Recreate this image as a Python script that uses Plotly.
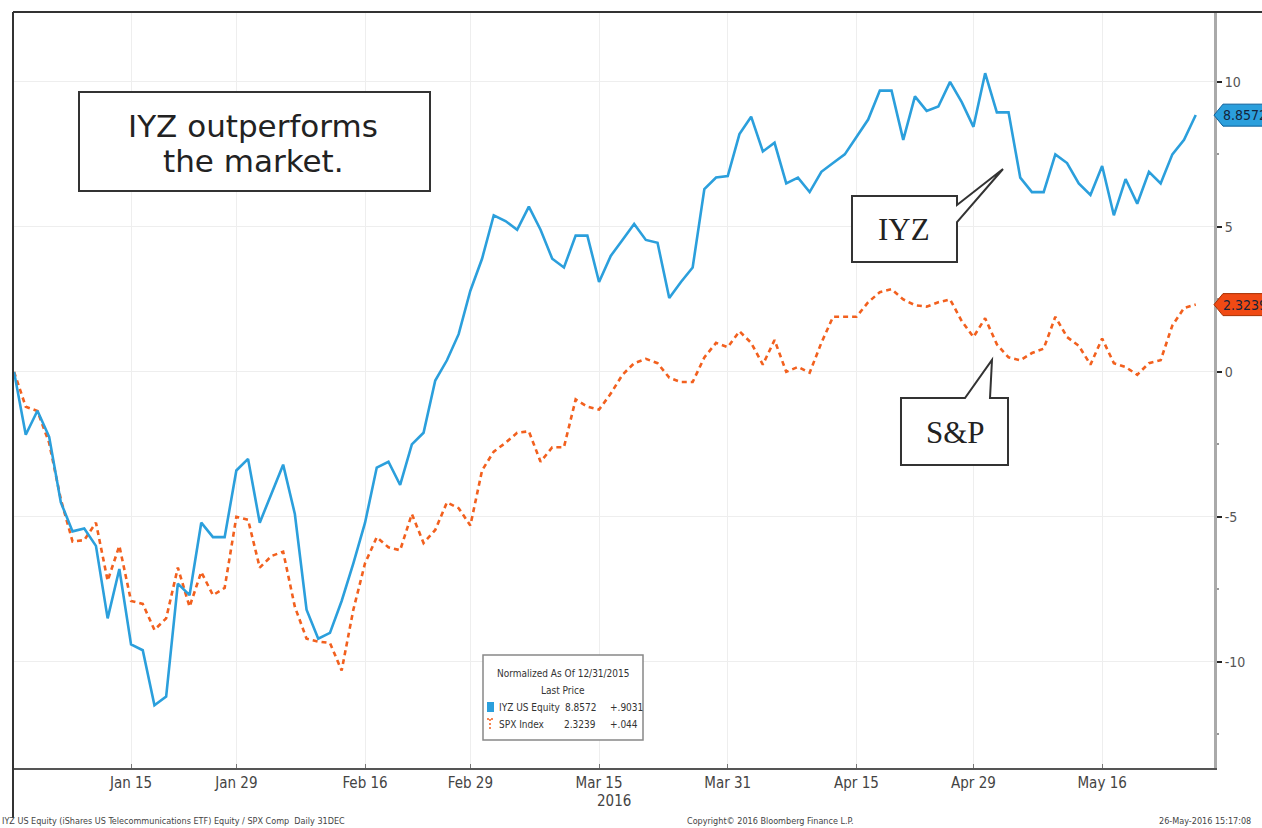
import plotly.graph_objects as go

# ---------------- data (normalized % change since 12/31/2015, trading days) ----------------
day_index = list(range(102))

iyz = [0, -2.17, -1.34, -2.24, -4.5, -5.5, -5.4, -6.0, -8.5, -6.8,
       -9.4, -9.6, -11.5, -11.2, -7.3, -7.7, -5.2, -5.7, -5.7, -3.4,
       -3.0, -5.2, -4.2, -3.2, -4.9, -8.2, -9.2, -9.0, -7.9, -6.6,
       -5.2, -3.3, -3.1, -3.9, -2.5, -2.1, -0.3, 0.4, 1.3, 2.8,
       3.9, 5.4, 5.2, 4.9, 5.7, 4.9, 3.9, 3.6, 4.7, 4.7,
       3.1, 4.0, 4.55, 5.1, 4.55, 4.45, 2.55, 3.1, 3.6, 6.3,
       6.7, 6.75, 8.2, 8.8, 7.6, 7.9, 6.5, 6.7, 6.2, 6.9,
       7.2, 7.5, 8.1, 8.7, 9.7, 9.7, 8.0, 9.5, 9.0, 9.15,
       10.0, 9.3, 8.45, 10.3, 8.95, 8.95, 6.7, 6.2, 6.2, 7.5,
       7.2, 6.5, 6.1, 7.1, 5.4, 6.65, 5.8, 6.9, 6.5, 7.5,
       8.0, 8.8572]

spx = [0, -1.2, -1.35, -2.45, -4.4, -5.85, -5.8, -5.2, -7.2, -6.0,
       -7.9, -8.0, -8.9, -8.5, -6.75, -8.1, -6.9, -7.7, -7.45, -5.0,
       -5.1, -6.75, -6.35, -6.2, -8.1, -9.2, -9.3, -9.35, -10.3, -8.2,
       -6.6, -5.7, -6.05, -6.15, -4.9, -5.9, -5.45, -4.5, -4.7, -5.3,
       -3.4, -2.75, -2.45, -2.1, -2.05, -3.1, -2.6, -2.6, -0.95, -1.2,
       -1.3, -0.75, -0.1, 0.3, 0.45, 0.3, -0.2, -0.35, -0.35, 0.5,
       1.0, 0.85, 1.4, 1.0, 0.25, 1.1, 0.0, 0.17, -0.03, 1.0,
       1.9, 1.9, 1.9, 2.4, 2.75, 2.85, 2.5, 2.3, 2.25, 2.4,
       2.5, 1.75, 1.2, 1.85, 0.95, 0.5, 0.4, 0.65, 0.8, 1.9,
       1.2, 0.9, 0.25, 1.15, 0.3, 0.17, -0.1, 0.3, 0.4, 1.6,
       2.2, 2.3239]

tick_days = [10, 19, 30, 39, 50, 61, 72, 82, 93]
tick_labels = ["Jan 15", "Jan 29", "Feb 16", "Feb 29", "Mar 15", "Mar 31", "Apr 15", "Apr 29", "May 16"]
y_ticks = [10, 5, 0, -5, -10]

# ---------------- layout geometry ----------------
W, H = 1262, 828
L, R, T, B = 13, 1214, 12, 768


def px(x):
    return (x - L) / (R - L)


def py(y):
    return (B - y) / (B - T)


def path(points):
    s = "M " + " L ".join(f"{px(x):.5f},{py(y):.5f}" for x, y in points) + " Z"
    return s


BLUE = "#2b9fdc"
ORANGE = "#f2601e"
NARROW = "Liberation Sans Narrow, DejaVu Sans Condensed, Arial Narrow, Liberation Sans, sans-serif"

fig = go.Figure()
fig.add_trace(go.Scatter(x=day_index, y=spx, mode="lines", name="SPX Index",
                         line=dict(color=ORANGE, width=2.6, dash="5px,4px")))
fig.add_trace(go.Scatter(x=day_index, y=iyz, mode="lines", name="IYZ US Equity",
                         line=dict(color=BLUE, width=2.6)))

shapes = []
annotations = []

# frame lines
shapes.append(dict(type="line", xref="paper", yref="paper", x0=px(13), x1=px(1262), y0=py(12), y1=py(12),
                   line=dict(color="#333333", width=2), layer="above"))
shapes.append(dict(type="line", xref="paper", yref="paper", x0=px(13), x1=px(13), y0=py(12), y1=py(818),
                   line=dict(color="#333333", width=2), layer="above"))

# title box
shapes.append(dict(type="rect", xref="paper", yref="paper", x0=px(79), x1=px(430), y0=py(191), y1=py(92),
                   line=dict(color="#333333", width=2), fillcolor="white", layer="above"))
tf = dict(family="DejaVu Sans, Verdana, sans-serif", size=31, color="#222222")
annotations.append(dict(xref="paper", yref="paper", x=px(253), y=py(126), text="IYZ outperforms",
                        showarrow=False, font=tf, xanchor="center", yanchor="middle"))
annotations.append(dict(xref="paper", yref="paper", x=px(253), y=py(161), text="the market.",
                        showarrow=False, font=tf, xanchor="center", yanchor="middle"))

# IYZ callout
shapes.append(dict(type="path", xref="paper", yref="paper",
                   path=path([(852, 196), (957, 196), (957, 205), (1003, 169), (957, 222), (957, 262), (852, 262)]),
                   line=dict(color="#333333", width=2), fillcolor="white", layer="above"))
annotations.append(dict(xref="paper", yref="paper", x=px(904), y=py(229), text="IYZ", showarrow=False,
                        font=dict(family="Liberation Serif, Times New Roman, serif", size=31, color="#222222"),
                        xanchor="center", yanchor="middle"))

# S&P callout
shapes.append(dict(type="path", xref="paper", yref="paper",
                   path=path([(901, 398), (965, 398), (992, 360), (990, 398), (1008, 398), (1008, 465), (901, 465)]),
                   line=dict(color="#333333", width=2), fillcolor="white", layer="above"))
annotations.append(dict(xref="paper", yref="paper", x=px(955), y=py(432), text="S&amp;P", showarrow=False,
                        font=dict(family="Liberation Serif, Times New Roman, serif", size=31, color="#222222"),
                        xanchor="center", yanchor="middle"))

# mini legend box
shapes.append(dict(type="rect", xref="paper", yref="paper", x0=px(483), x1=px(643), y0=py(740), y1=py(655),
                   line=dict(color="#888888", width=1.5), fillcolor="white", layer="above"))
lf = dict(family=NARROW, size=10, color="#333333")
annotations.append(dict(xref="paper", yref="paper", x=px(563), y=py(673), text="Normalized As Of 12/31/2015",
                        showarrow=False, font=lf, xanchor="center", yanchor="middle"))
annotations.append(dict(xref="paper", yref="paper", x=px(563), y=py(690), text="Last Price",
                        showarrow=False, font=lf, xanchor="center", yanchor="middle"))
shapes.append(dict(type="rect", xref="paper", yref="paper", x0=px(487), x1=px(494), y0=py(712), y1=py(702),
                   line=dict(width=0), fillcolor=BLUE, layer="above"))
shapes.append(dict(type="line", xref="paper", yref="paper", x0=px(490), x1=px(490), y0=py(729), y1=py(719),
                   line=dict(color=ORANGE, width=1.5, dash="2px,2px"), layer="above"))
shapes.append(dict(type="line", xref="paper", yref="paper", x0=px(487), x1=px(494), y0=py(719), y1=py(719),
                   line=dict(color=ORANGE, width=1.5, dash="2px,2px"), layer="above"))
legend_rows = [("IYZ US Equity", "8.8572", "+.9031", 707), ("SPX Index", "2.3239", "+.044", 724)]
for name, val, chg, yy in legend_rows:
    annotations.append(dict(xref="paper", yref="paper", x=px(497), y=py(yy), text=name, showarrow=False,
                            font=lf, xanchor="left", yanchor="middle"))
    annotations.append(dict(xref="paper", yref="paper", x=px(598), y=py(yy), text=val, showarrow=False,
                            font=lf, xanchor="right", yanchor="middle"))
    annotations.append(dict(xref="paper", yref="paper", x=px(608), y=py(yy), text=chg, showarrow=False,
                            font=lf, xanchor="left", yanchor="middle"))

# last value tags on the right axis
for val, color, edge in [(iyz[-1], BLUE, "#0d5f9a"), (spx[-1], "#f04a14", "#a83000")]:
    yc = 372 - val * 29
    shapes.append(dict(type="path", xref="paper", yref="paper",
                       path=path([(1214, yc), (1223, yc - 11), (1264, yc - 11), (1264, yc + 11), (1223, yc + 11)]),
                       line=dict(color=edge, width=1), fillcolor=color, layer="above"))
    annotations.append(dict(xref="paper", yref="paper", x=px(1221), y=py(yc), text=f"{val:.4f}", showarrow=False,
                            font=dict(family=NARROW, size=14, color="#14233a"), xanchor="left", yanchor="middle"))

# year label and footer
annotations.append(dict(xref="paper", yref="paper", x=px(614), y=py(801), text="2016", showarrow=False,
                        font=dict(family=NARROW, size=15, color="#444444"), xanchor="center", yanchor="middle"))
ff = dict(family=NARROW, size=9, color="#444444")
annotations.append(dict(xref="paper", yref="paper", x=px(0), y=py(821),
                        text="IYZ US Equity (iShares US Telecommunications ETF) Equity / SPX Comp  Daily 31DEC",
                        showarrow=False, font=ff, xanchor="left", yanchor="middle"))
annotations.append(dict(xref="paper", yref="paper", x=px(770), y=py(821),
                        text="Copyright\u00a9 2016 Bloomberg Finance L.P.",
                        showarrow=False, font=ff, xanchor="center", yanchor="middle"))
annotations.append(dict(xref="paper", yref="paper", x=px(1157), y=py(821), text="26-May-2016 15:17:08",
                        showarrow=False, font=ff, xanchor="left", yanchor="middle"))

fig.update_layout(
    width=W, height=H,
    margin=dict(l=L, r=W - R, t=T, b=H - B),
    paper_bgcolor="white", plot_bgcolor="white",
    showlegend=False,
    shapes=shapes, annotations=annotations,
    xaxis=dict(range=[-0.09, 102.56], tickmode="array", tickvals=tick_days, ticktext=tick_labels,
               showgrid=True, gridcolor="#eeeeee", gridwidth=1, zeroline=False,
               showline=True, linecolor="#555555", linewidth=1.5,
               ticks="inside", ticklen=4, tickcolor="#777777",
               tickfont=dict(family=NARROW, size=15, color="#444444")),
    yaxis=dict(range=[-13.66, 12.41], side="right", tickmode="array", tickvals=y_ticks,
               ticktext=[str(v) for v in y_ticks],
               showgrid=True, gridcolor="#eeeeee", gridwidth=1, zeroline=False,
               showline=True, linecolor="#aaaaaa", linewidth=3,
               ticks="outside", ticklen=5, tickwidth=2, tickcolor="#222222",
               minor=dict(tickvals=[12.5, 7.5, 2.5, -2.5, -7.5, -12.5], ticks="outside", ticklen=2,
                          tickcolor="#999999", showgrid=False),
               tickfont=dict(family=NARROW, size=14, color="#555555")),
)

fig.write_html("out.html", config={"displayModeBar": False},
               post_script="document.body.style.margin='0';document.body.style.overflow='hidden';")
